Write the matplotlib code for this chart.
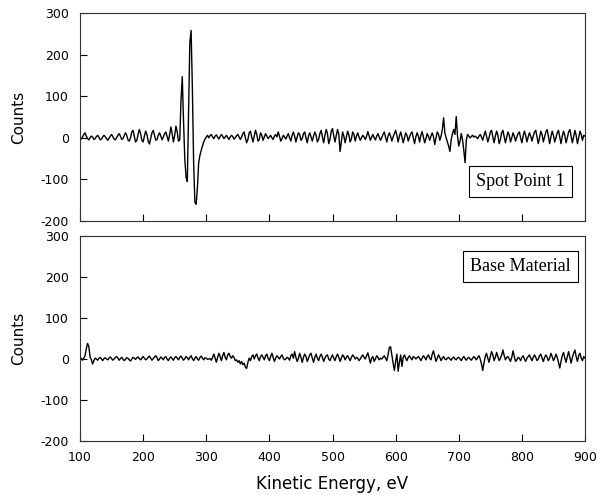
import numpy as np
import matplotlib
matplotlib.use("Agg")
import matplotlib.pyplot as plt

# Kinetic energy grid (eV), 2 eV step
energy = np.arange(100, 901, 2)

# Spot Point 1 counts
spot_counts = [
    0, -3, 2, 8, 12, 4, -2, -5, 0, 4,            # 100-118
    2, -4, -2, 3, 6, 1, -5, -3, 2, 6,            # 120-138
    3, -2, -6, -1, 4, 8, 3, -3, -5, 0,           # 140-158
    6, 10, 4, -4, -2, 5, 12, 6, -5, -8,          # 160-178
    0, 14, 18, 4, -10, -6, 8, 20, 10, -6,        # 180-198
    -10, 4, 16, 8, -8, -15, -2, 12, 18, 6,       # 200-218
    -6, -4, 6, 12, 4, -5, 2, 10, 14, 3,          # 220-238
    -8, 8, 26, 10, -10, 6, 28, 14, -8, -5,       # 240-258
    90, 147, 40, -50, -95, -105, 60, 230, 258, 120,   # 260-278
    -60, -155, -160, -120, -60, -42, -30, -20, -10, -3,  # 280-298
    2, 6, 0, 5, 8, 2, -2, 4, 7, 2,               # 300-318
    -3, 3, 8, 4, -2, 2, 6, 1, -4, 2,             # 320-338
    6, 3, -3, 0, 5, 8, 2, -4, 2, 10,             # 340-358
    14, 0, -12, -4, 12, 16, 2, -10, 4, 18,       # 360-378
    8, -8, -4, 12, 6, -6, 2, 10, 4, -2,          # 380-398
    2, 6, 0, -4, 4, 8, 2, 14, 4, -8,             # 400-418
    -2, 6, 2, -3, 4, 10, 0, -8, 6, 14,           # 420-438
    4, -10, 2, 12, 8, -6, -2, 10, 14, 0,         # 440-458
    -12, 4, 12, 2, -8, 4, 14, 6, -10, -4,        # 460-478
    10, 18, 2, -12, 6, 20, 10, -14, -4, 16,      # 480-498
    22, 4, -10, 6, 20, 8, -33, -10, 14, 4,       # 500-518
    -12, 2, 16, 6, -10, -2, 14, 8, -8, 4,        # 520-538
    12, 2, -6, 0, 6, 2, -4, 4, 15, 4,            # 540-558
    -6, 2, 8, 0, -5, 4, 10, 2, -6, 0,            # 560-578
    8, 14, 2, -10, 4, 12, 4, -8, 2, 10,          # 580-598
    18, 6, -10, 4, 14, 2, -12, 0, 12, 6,         # 600-618
    -8, 2, 10, 14, 0, -14, 2, 12, 4, -10,        # 620-638
    6, 15, 2, -12, -2, 10, 4, -6, 4, 12,         # 640-658
    2, -16, 0, 14, 8, -6, 4, 20, 48, 12,         # 660-678
    0, -10, -20, -33, -5, 10, 20, 8, 51, 5,      # 680-698
    -20, -8, 10, -5, -30, -60, -5, 8, 4, 0,      # 700-718
    3, 6, 2, 4, 1, -2, 4, 8, 2, -6,              # 720-738
    6, 16, 4, -10, 0, 14, 18, 2, -12, 4,         # 740-758
    16, 6, -14, -4, 12, 18, 2, -12, 2, 14,       # 760-778
    6, -10, 0, 12, 4, -8, 2, 10, 14, 0,          # 780-798
    -12, 4, 16, 6, -10, 2, 12, 4, -8, 4,         # 800-818
    14, 18, 2, -14, 0, 16, 8, -10, 2, 14,        # 820-838
    20, 4, -14, 2, 16, 6, -10, 0, 12, 18,        # 840-858
    2, -14, 4, 16, 6, -12, 0, 14, 20, 4,         # 860-878
    -12, 2, 18, 6, -14, 0, 16, 8, -6, 6,         # 880-898
    4,                                           # 900
]

# Base Material counts
base_counts = [
    0, 2, -3, 2, 8, 25, 38, 30, 5, -2,           # 100-118
    -12, -4, 2, 0, -3, 2, 4, 0, -4, 1,           # 120-138
    3, 0, -2, 2, 5, 1, -3, 0, 4, 6,              # 140-158
    2, -3, 1, 4, 0, -4, -1, 3, 2, -2,            # 160-178
    -5, 0, 4, 2, -1, 3, 5, 1, -2, 2,             # 180-198
    6, 2, -2, 0, 4, 7, 2, -3, 1, 5,              # 200-218
    8, 3, -4, 0, 5, 2, -2, 4, 6, 0,              # 220-238
    -4, 2, 5, 1, -3, 3, 6, 2, -2, 4,             # 240-258
    7, 2, -3, 1, 6, 3, -2, 4, 8, 1,              # 260-278
    -4, 2, 6, 0, -3, 4, 7, 2, -2, 3,             # 280-298
    2, -1, 0, 1, -3, 4, 12, 2, -8, 4,            # 300-318
    14, 6, -4, 8, 16, 4, -2, 10, 14, 6,          # 320-338
    2, 8, 4, -4, -2, -8, -4, -12, -6, -14,       # 340-358
    -10, -20, -23, -8, 2, -4, 6, 10, 0, 8,       # 360-378
    12, 2, -4, 6, 10, 4, -2, 8, 12, 2,           # 380-398
    -4, 6, 14, 4, -6, 2, 8, 4, 0, 6,             # 400-418
    10, 2, -2, 0, 4, 2, -3, 8, 12, 2,            # 420-438
    18, 4, -6, 2, 14, 4, -8, 4, 12, 6,           # 440-458
    -6, 2, 10, 14, 2, -8, 4, 12, 2, -4,          # 460-478
    6, 12, 4, -6, 2, 8, 10, 0, -4, 4,            # 480-498
    10, 2, -4, 6, 12, 4, -6, 2, 10, 6,           # 500-518
    -2, 4, 8, 2, -4, 4, 10, 6, 0, 4,             # 520-538
    2, -4, 0, 6, 10, 4, 0, 8, 15, 2,             # 540-558
    -10, 2, 6, -6, 0, 8, 4, -2, 2, 0,            # 560-578
    4, 8, 2, -4, 10, 28, 30, 10, -10, -28,       # 580-598
    -6, 12, -30, -8, 10, -18, 4, 10, 2, -4,      # 600-618
    4, 8, 2, -2, 6, 4, 0, 3, 6, 2,               # 620-638
    -4, 2, 8, 4, -2, 6, 10, 2, -2, 12,           # 640-658
    20, 6, -6, 2, 10, 4, -4, 2, 6, 0,            # 660-678
    -2, 2, 4, 0, -3, 2, 5, 0, -2, 3,             # 680-698
    4, 0, -4, 2, 6, 1, -3, 2, 4, 0,              # 700-718
    -3, 2, 6, 2, -2, 4, 8, 0, -12, -28,          # 720-738
    -10, 6, 14, 2, -8, 6, 18, 10, -4, 4,         # 740-758
    16, 6, -4, 2, 10, 22, 8, -2, 4, 6,           # 760-778
    0, -6, 4, 20, 6, -6, -2, 4, 2, -4,           # 780-798
    4, 8, 0, -6, 2, 6, 10, 2, -4, 4,             # 800-818
    10, 4, -4, 0, 8, 12, 2, -6, 4, 10,           # 820-838
    4, -4, 2, 14, 6, -4, 2, 12, 4, -8,           # 840-858
    -22, -6, 8, 16, 2, -8, 6, 18, 4, -10,        # 860-878
    4, 14, 22, 6, -6, 8, 14, 2, -4, 6,           # 880-898
    2,                                           # 900
]

x_ticks = [100, 200, 300, 400, 500, 600, 700, 800, 900]
y_ticks = [-200, -100, 0, 100, 200, 300]
y_ticklabels = ["-200", "-100", "0", "100", "200", "300"]
panel_labels = ["Spot Point 1", "Base Material"]

plt.rcParams['font.family'] = ['DejaVu Sans']

fig = plt.figure(figsize=(5.97, 4.95), dpi=100)
W, H = 597, 495
ax1 = fig.add_axes([80 / W, 1 - 221 / H, 505 / W, 208 / H])
ax2 = fig.add_axes([80 / W, 1 - 441 / H, 505 / W, 205 / H])

series = [spot_counts, base_counts]
label_pos = [(0.872, 0.19), (0.872, 0.85)]

for i, ax in enumerate([ax1, ax2]):
    ax.plot(energy, series[i], color='black', lw=1.0)
    ax.set_xlim(100, 900)
    ax.set_ylim(-200, 300)
    ax.set_xticks(x_ticks)
    ax.set_yticks(y_ticks)
    ax.set_yticklabels(y_ticklabels)
    ax.tick_params(axis='both', direction='in', length=5, width=0.8,
                   labelsize=9, color='black', pad=8)
    ax.tick_params(axis='x', pad=7)
    for s in ax.spines.values():
        s.set_linewidth(0.8)
        s.set_color('#333333')
    ax.set_ylabel("Counts", fontsize=11, labelpad=10)
    ax.text(label_pos[i][0], label_pos[i][1], panel_labels[i],
            transform=ax.transAxes, ha='center', va='center',
            family='Liberation Serif', fontsize=13,
            bbox=dict(boxstyle='square,pad=0.4', fc='white', ec='black', lw=0.8))

ax1.tick_params(axis='x', labelbottom=False)
ax2.set_xlabel("Kinetic Energy, eV", fontsize=12, labelpad=8)

fig.savefig("out.png", dpi=100)
